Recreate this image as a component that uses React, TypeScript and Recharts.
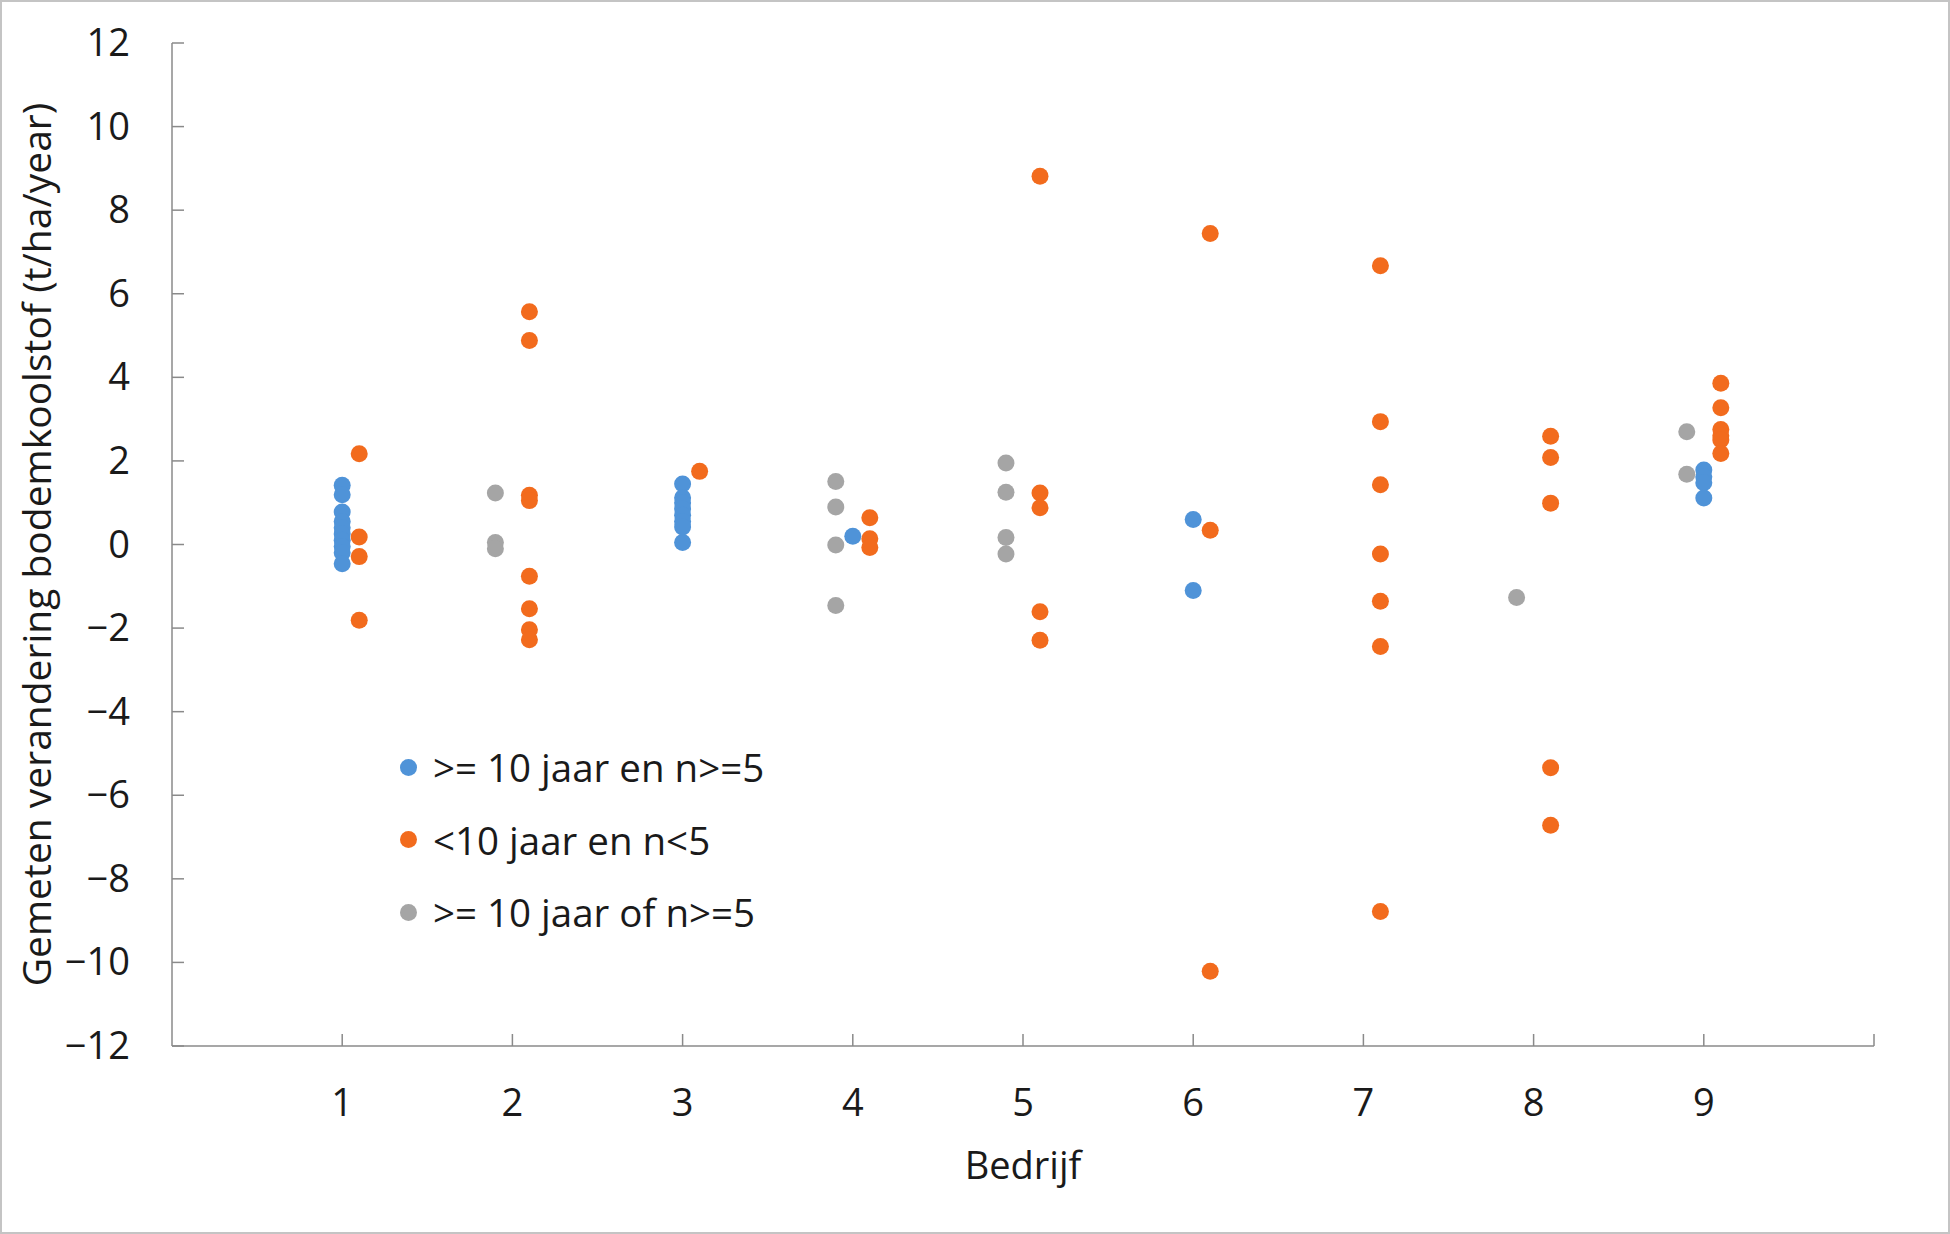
import React from "react";
import {
  ScatterChart, Scatter, XAxis, YAxis, Label,
} from "recharts";

// Bedrijf (x, jittered by ±0.1 per groep) and gemeten verandering (y)
const blueX = [1, 1, 1, 1, 1, 1, 1, 1, 1, 1, 3, 3, 3, 3, 3, 3, 3, 3, 4, 6, 6, 9, 9, 9, 9];
const blueY = [1.42, 1.19, 0.78, 0.55, 0.4, 0.25, 0.1, -0.05, -0.2, -0.46,
  1.45, 1.12, 1.0, 0.85, 0.7, 0.55, 0.42, 0.05, 0.2, 0.6, -1.1, 1.78, 1.62, 1.48, 1.11];

const orangeX = [1.1, 1.1, 1.1, 1.1, 2.1, 2.1, 2.1, 2.1, 2.1, 2.1, 2.1, 2.1, 3.1,
  4.1, 4.1, 4.1, 5.1, 5.1, 5.1, 5.1, 5.1, 6.1, 6.1, 6.1,
  7.1, 7.1, 7.1, 7.1, 7.1, 7.1, 7.1, 8.1, 8.1, 8.1, 8.1, 8.1,
  9.1, 9.1, 9.1, 9.1, 9.1, 9.1];
const orangeY = [2.17, 0.18, -0.29, -1.81, 5.57, 4.88, 1.18, 1.05, -0.76, -1.54, -2.04, -2.28, 1.75,
  0.64, 0.14, -0.07, 8.81, 1.23, 0.88, -1.61, -2.29, 7.44, 0.34, -10.21,
  6.67, 2.94, 1.43, -0.23, -1.36, -2.44, -8.78, 2.59, 2.08, 0.99, -5.34, -6.72,
  3.86, 3.27, 2.75, 2.6, 2.5, 2.18];

const grayX = [1.9, 1.9, 1.9, 3.9, 3.9, 3.9, 3.9, 4.9, 4.9, 4.9, 4.9, 7.9, 8.9, 8.9];
const grayY = [1.23, 0.05, -0.1, 1.51, 0.9, -0.01, -1.46, 1.95, 1.25, 0.17, -0.23, -1.27, 2.7, 1.68];

const seriesNames = [">= 10 jaar en n>=5", "<10 jaar en n<5", ">= 10 jaar of n>=5"];
const colors = ["#4f93d8", "#f26b1d", "#a5a5a5"];

const xTicks = [1, 2, 3, 4, 5, 6, 7, 8, 9, 10];
const yTicks = [-12, -10, -8, -6, -4, -2, 0, 2, 4, 6, 8, 10, 12];

const toPoints = (xs: number[], ys: number[]) => xs.map((x, i) => ({ x, y: ys[i] }));
const blueData = toPoints(blueX, blueY);
const orangeData = toPoints(orangeX, orangeY);
const grayData = toPoints(grayX, grayY);

const FONT = "'Open Sans', 'Noto Sans', sans-serif";
const TEXT = "#1a1a1a";
const AXIS = "#8a8a8a";
const FS = 38;

const dot = (color: string) => (p: any) => (
  <circle cx={p.cx} cy={p.cy} r={8.5} fill={color} />
);

const XTick = (p: any) => (
  <g>
    <line x1={p.x} x2={p.x} y1={p.y} y2={p.y - 12} stroke={AXIS} strokeWidth={1.5} />
    {p.payload.value < 10 && (
      <text x={p.x} y={p.y + 70} textAnchor="middle" fontSize={FS} fontFamily={FONT} fill={TEXT}>
        {p.payload.value}
      </text>
    )}
  </g>
);

const YTick = (p: any) => (
  <g>
    <line x1={p.x} x2={p.x + 12} y1={p.y} y2={p.y} stroke={AXIS} strokeWidth={1.5} />
    <text x={p.x - 42} y={p.y + 13} textAnchor="end" fontSize={FS} fontFamily={FONT} fill={TEXT}>
      {p.payload.value < 0 ? "\u2212" + Math.abs(p.payload.value) : p.payload.value}
    </text>
  </g>
);

export default function App() {
  return (
    <div style={{ position: "relative", width: 1950, height: 1234, background: "#fff" }}>
      <style>{"body{margin:0}"}</style>
      <ScatterChart
        width={1950}
        height={1234}
        margin={{ top: 43, right: 76, bottom: 0, left: 0 }}
      >
        <XAxis
          type="number"
          dataKey="x"
          domain={[0, 10]}
          ticks={xTicks}
          tick={<XTick />}
          tickLine={false}
          tickSize={0}
          tickMargin={0}
          height={188}
          stroke={AXIS}
          strokeWidth={1.5}
          interval={0}
        >
          <Label
            content={(props: any) => {
              const vb = props.viewBox;
              return (
                <text
                  x={vb.x + vb.width / 2}
                  y={vb.y + 133}
                  textAnchor="middle"
                  fontSize={FS}
                  fontFamily={FONT}
                  fill={TEXT}
                >
                  Bedrijf
                </text>
              );
            }}
          />
        </XAxis>
        <YAxis
          type="number"
          dataKey="y"
          domain={[-12, 12]}
          ticks={yTicks}
          tick={<YTick />}
          tickLine={false}
          tickSize={0}
          tickMargin={0}
          width={172}
          stroke={AXIS}
          strokeWidth={1.5}
          interval={0}
        >
          <Label
            content={(props: any) => {
              const vb = props.viewBox;
              const cx = vb.x + 35;
              const cy = vb.y + vb.height / 2;
              return (
                <text
                  x={cx}
                  y={cy}
                  transform={`rotate(-90 ${cx} ${cy})`}
                  textAnchor="middle"
                  dominantBaseline="central"
                  fontSize={39}
                  fontFamily={FONT}
                  fill={TEXT}
                >
                  Gemeten verandering bodemkoolstof (t/ha/year)
                </text>
              );
            }}
          />
        </YAxis>
        <Scatter name={seriesNames[0]} data={blueData} fill={colors[0]} shape={dot(colors[0])} isAnimationActive={false} />
        <Scatter name={seriesNames[1]} data={orangeData} fill={colors[1]} shape={dot(colors[1])} isAnimationActive={false} />
        <Scatter name={seriesNames[2]} data={grayData} fill={colors[2]} shape={dot(colors[2])} isAnimationActive={false} />
      </ScatterChart>
      <div style={{
        position: "absolute", left: 400, top: 731, fontFamily: FONT, fontSize: 38.5, color: TEXT,
      }}>
        {seriesNames.map((name, i) => (
          <div key={name} style={{ display: "flex", alignItems: "center", height: 72.5 }}>
            <span style={{
              width: 17, height: 17, borderRadius: 9, background: colors[i],
              display: "inline-block", marginRight: 16,
            }} />
            <span>{name}</span>
          </div>
        ))}
      </div>
      <div style={{
        position: "absolute", inset: 0, border: "2px solid #c4c4c4", pointerEvents: "none",
      }} />
    </div>
  );
}
